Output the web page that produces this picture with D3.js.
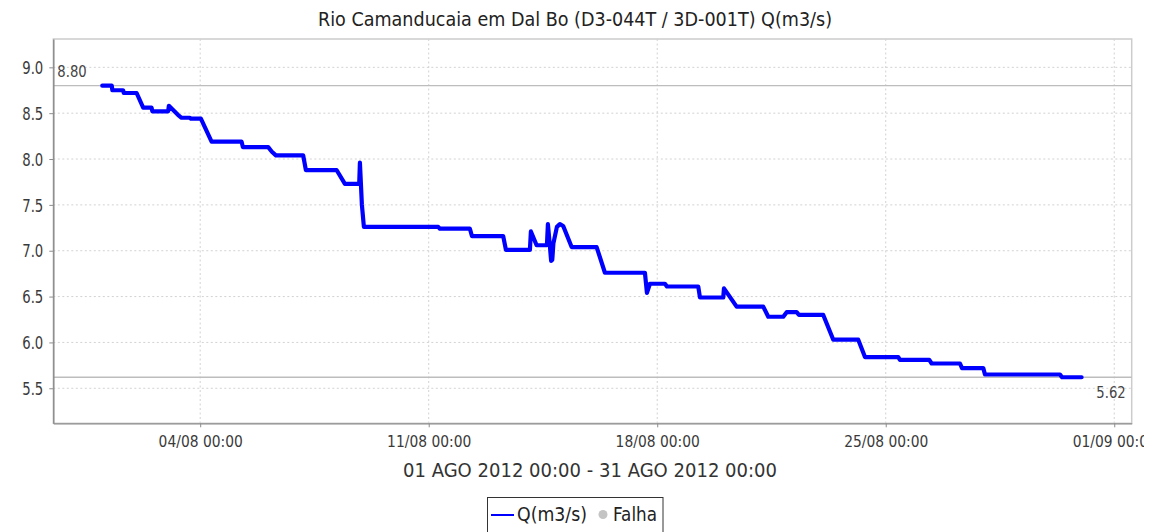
<!DOCTYPE html>
<html>
<head>
<meta charset="utf-8">
<script src="https://cdn.jsdelivr.net/npm/d3@7"></script>
<style>
  body { margin: 0; background: #fff; }
  svg { display: block; }
</style>
</head>
<body>
<svg id="chart" width="1164" height="532"></svg>
<script>
// Hourly discharge readings (UTC timestamps) and flow in m3/s
const times = [
  "2012-08-01 00:00", "2012-08-01 07:00", "2012-08-01 07:25", "2012-08-01 15:20",
  "2012-08-01 15:50", "2012-08-02 01:15", "2012-08-02 06:05", "2012-08-02 12:15",
  "2012-08-02 12:50", "2012-08-03 00:27", "2012-08-03 00:58", "2012-08-03 07:48",
  "2012-08-03 10:19", "2012-08-03 16:25", "2012-08-03 17:08", "2012-08-04 00:30",
  "2012-08-04 08:22", "2012-08-05 06:26", "2012-08-05 07:23", "2012-08-06 02:00",
  "2012-08-06 04:42", "2012-08-06 07:39", "2012-08-07 03:43", "2012-08-07 05:42",
  "2012-08-08 04:16", "2012-08-08 10:23", "2012-08-08 20:54", "2012-08-08 21:25",
  "2012-08-08 22:53", "2012-08-09 00:21", "2012-08-11 06:59", "2012-08-11 08:14",
  "2012-08-12 06:17", "2012-08-12 07:46", "2012-08-13 06:46", "2012-08-13 08:46",
  "2012-08-14 02:24", "2012-08-14 03:08", "2012-08-14 07:20", "2012-08-14 14:54",
  "2012-08-14 15:38", "2012-08-14 17:06", "2012-08-14 18:00", "2012-08-14 18:50",
  "2012-08-14 19:40", "2012-08-14 22:15", "2012-08-15 00:27", "2012-08-15 02:53",
  "2012-08-15 09:05", "2012-08-16 03:27", "2012-08-16 09:33", "2012-08-17 14:58",
  "2012-08-17 16:26", "2012-08-17 18:38", "2012-08-18 05:41", "2012-08-18 07:09",
  "2012-08-19 06:10", "2012-08-19 07:25", "2012-08-20 00:33", "2012-08-20 01:04",
  "2012-08-20 10:23", "2012-08-21 05:57", "2012-08-21 09:38", "2012-08-21 20:40",
  "2012-08-21 23:10", "2012-08-22 06:30", "2012-08-22 08:12", "2012-08-23 02:04",
  "2012-08-23 09:26", "2012-08-24 03:48", "2012-08-24 08:44", "2012-08-25 09:13",
  "2012-08-25 10:28", "2012-08-26 08:01", "2012-08-26 09:46", "2012-08-27 06:35",
  "2012-08-27 08:04", "2012-08-27 23:43", "2012-08-28 00:58", "2012-08-30 08:07",
  "2012-08-30 09:36", "2012-08-31 00:00"
];
const flow = [
  8.80, 8.80, 8.75, 8.75,
  8.72, 8.72, 8.56, 8.56,
  8.52, 8.52, 8.58, 8.48,
  8.45, 8.45, 8.44, 8.44,
  8.19, 8.19, 8.13, 8.13,
  8.08, 8.04, 8.04, 7.88,
  7.88, 7.73, 7.73, 7.96,
  7.50, 7.26, 7.26, 7.24,
  7.24, 7.16, 7.16, 7.01,
  7.01, 7.21, 7.06, 7.06,
  7.29, 7.05, 6.89, 6.90,
  7.08, 7.26, 7.29, 7.27,
  7.04, 7.04, 6.76, 6.76,
  6.54, 6.64, 6.64, 6.61,
  6.61, 6.49, 6.49, 6.59,
  6.39, 6.39, 6.28, 6.28,
  6.33, 6.33, 6.30, 6.30,
  6.03, 6.03, 5.84, 5.84,
  5.81, 5.81, 5.77, 5.77,
  5.72, 5.72, 5.65, 5.65,
  5.62, 5.62
];

// Axis ticks
const yTicks = [5.5, 6.0, 6.5, 7.0, 7.5, 8.0, 8.5, 9.0];
const xTicks = ["2012-08-04 00:00", "2012-08-11 00:00", "2012-08-18 00:00", "2012-08-25 00:00", "2012-09-01 00:00"];

// Reference lines: series maximum and minimum
const markerValues = [8.80, 5.62];

const titleText = "Rio Camanducaia em Dal Bo (D3-044T / 3D-001T) Q(m3/s)";
const periodText = "01 AGO 2012 00:00 - 31 AGO 2012 00:00";
const seriesName = "Q(m3/s)";
const gapName = "Falha";

const parse = d3.utcParse("%Y-%m-%d %H:%M");
const data = times.map((t, i) => ({ t: parse(t), v: flow[i] }));

const svg = d3.select("#chart");
const FONT = "'DejaVu Sans', sans-serif";
const plot = { left: 53.3, right: 1131.7, top: 39, bottom: 423.3 };

const x = d3.scaleUtc()
  .domain([parse("2012-07-30 12:00"), parse("2012-09-01 12:50")])
  .range([plot.left, plot.right]);
const y = d3.scaleLinear()
  .domain([5.118, 9.309])
  .range([plot.bottom, plot.top]);

// Clip region for the right edge of the image
svg.append("defs").append("clipPath").attr("id", "imgclip")
  .append("rect").attr("x", 0).attr("y", 0).attr("width", 1144).attr("height", 532);

// Plot frame (top/right edges light)
svg.append("rect")
  .attr("x", plot.left).attr("y", plot.top)
  .attr("width", plot.right - plot.left).attr("height", plot.bottom - plot.top)
  .attr("fill", "#fff").attr("stroke", "#cccccc").attr("stroke-width", 1.5);

// Gridlines
const grid = svg.append("g");
grid.selectAll("line.hy").data(yTicks).join("line")
  .attr("x1", plot.left).attr("x2", plot.right)
  .attr("y1", d => y(d)).attr("y2", d => y(d))
  .attr("stroke", "#d2d2d2").attr("stroke-width", 1).attr("stroke-dasharray", "2,2.5");
grid.selectAll("line.vx").data(xTicks.map(parse)).join("line")
  .attr("x1", d => x(d)).attr("x2", d => x(d))
  .attr("y1", plot.top).attr("y2", plot.bottom)
  .attr("stroke", "#d2d2d2").attr("stroke-width", 1).attr("stroke-dasharray", "2,2.5");

// Marker lines
svg.append("g").selectAll("line").data(markerValues).join("line")
  .attr("x1", plot.left).attr("x2", plot.right)
  .attr("y1", d => y(d)).attr("y2", d => y(d))
  .attr("stroke", "#bdbdbd").attr("stroke-width", 1.3);

const fmt2 = d3.format(".2f");
svg.append("text")
  .attr("transform", `translate(${plot.left + 4},${y(markerValues[0]) - 9}) scale(0.88,1)`)
  .attr("font-family", FONT).attr("font-size", 15).attr("fill", "#444")
  .text(fmt2(markerValues[0]));
svg.append("text")
  .attr("transform", `translate(${plot.right - 6},${y(markerValues[1]) + 21}) scale(0.88,1)`)
  .attr("text-anchor", "end")
  .attr("font-family", FONT).attr("font-size", 15).attr("fill", "#444")
  .text(fmt2(markerValues[1]));

// Series line
const line = d3.line().x(d => x(d.t)).y(d => y(d.v));
svg.append("path").datum(data)
  .attr("d", line)
  .attr("fill", "none")
  .attr("stroke", "#0000ff")
  .attr("stroke-width", 4.2)
  .attr("stroke-linejoin", "round")
  .attr("stroke-linecap", "round");

// Y axis
const sxY = 0.78;
const yAxis = svg.append("g")
  .attr("transform", `translate(${plot.left},0)`)
  .call(d3.axisLeft(y).tickValues(yTicks).tickFormat(d3.format(".1f")).tickSize(4).tickSizeOuter(0));
yAxis.select(".domain").attr("stroke", "#8c8c8c").attr("stroke-width", 1.5);
yAxis.selectAll(".tick line").attr("stroke", "#8c8c8c");
yAxis.selectAll(".tick text")
  .attr("font-family", FONT).attr("font-size", 17).attr("fill", "#3a3a3a")
  .attr("x", -10 / sxY).attr("dy", "0.36em")
  .attr("transform", `scale(${sxY},1)`);

// X axis
const sxX = 0.84;
const xAxis = svg.append("g")
  .attr("transform", `translate(0,${plot.bottom})`)
  .attr("clip-path", "url(#imgclip)")
  .call(d3.axisBottom(x).tickValues(xTicks.map(parse)).tickFormat(d3.utcFormat("%d/%m %H:%M")).tickSize(4).tickSizeOuter(0));
xAxis.select(".domain").attr("stroke", "#8c8c8c").attr("stroke-width", 1.5);
xAxis.selectAll(".tick line").attr("stroke", "#8c8c8c");
xAxis.selectAll(".tick text")
  .attr("font-family", FONT).attr("font-size", 16.5).attr("fill", "#3a3a3a")
  .attr("y", 24).attr("dy", 0)
  .attr("transform", `scale(${sxX},1)`);

// Title
svg.append("text")
  .attr("x", 575).attr("y", 26)
  .attr("text-anchor", "middle")
  .attr("font-family", FONT).attr("font-size", 19).attr("fill", "#222")
  .attr("textLength", 514).attr("lengthAdjust", "spacingAndGlyphs")
  .text(titleText);

// Period label
svg.append("text")
  .attr("x", 590).attr("y", 476.5)
  .attr("text-anchor", "middle")
  .attr("font-family", FONT).attr("font-size", 20).attr("fill", "#333")
  .attr("textLength", 374).attr("lengthAdjust", "spacingAndGlyphs")
  .text(periodText);

// Legend
const lg = svg.append("g");
lg.append("rect")
  .attr("x", 487.5).attr("y", 497.5).attr("width", 175.5).attr("height", 50)
  .attr("fill", "#fff").attr("stroke", "#333").attr("stroke-width", 1);
lg.append("line")
  .attr("x1", 491).attr("x2", 514).attr("y1", 515).attr("y2", 515)
  .attr("stroke", "#0000ff").attr("stroke-width", 2);
lg.append("text")
  .attr("x", 517).attr("y", 521)
  .attr("font-family", FONT).attr("font-size", 19).attr("fill", "#222")
  .attr("textLength", 70).attr("lengthAdjust", "spacingAndGlyphs")
  .text(seriesName);
lg.append("circle")
  .attr("cx", 603).attr("cy", 514.5).attr("r", 4.5)
  .attr("fill", "#c4c4c4");
lg.append("text")
  .attr("x", 613).attr("y", 521)
  .attr("font-family", FONT).attr("font-size", 19).attr("fill", "#222")
  .attr("textLength", 44).attr("lengthAdjust", "spacingAndGlyphs")
  .text(gapName);
</script>
</body>
</html>
